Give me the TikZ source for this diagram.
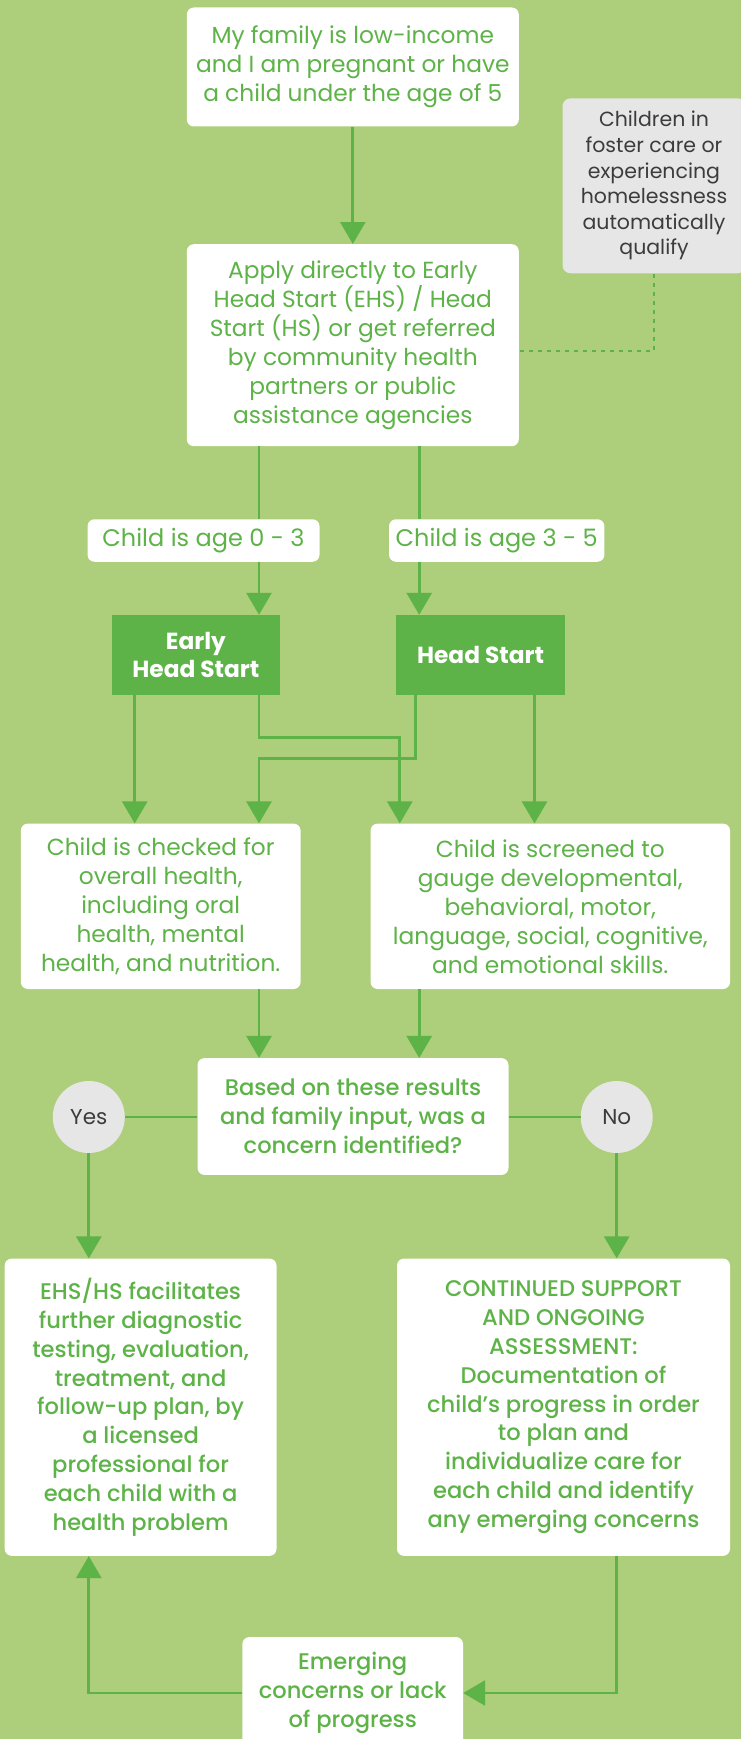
\documentclass[tikz,border=0pt]{standalone}
\usepackage{fontspec}
\setmainfont{Poppins}
\newfontfamily\medfont{Poppins Medium}
\usetikzlibrary{arrows.meta}
\definecolor{bg}{HTML}{ADCE7A}
\definecolor{tgreen}{HTML}{5DB347}
\definecolor{lgray}{HTML}{E6E6E6}
\definecolor{dgray}{HTML}{3C3C3C}
\begin{document}
\begin{tikzpicture}[x=1pt,y=-1pt,
  wbox/.style={fill=white, rounded corners=7pt, text=tgreen, align=center, inner sep=0pt},
  txt/.style={font=\fontsize{23.3}{29}\selectfont},
  mtxt/.style={font=\medfont\fontsize{22.6}{28.8}\selectfont},
  gbox/.style={fill=tgreen, text=white, align=center, inner sep=0pt, font=\bfseries\fontsize{23.3}{28.6}\selectfont},
  conn/.style={draw=tgreen, line width=2.8pt},
  arr/.style={conn, -{Triangle[length=22pt,width=25pt]}},
  circ/.style={circle, fill=lgray, text=dgray, minimum size=72pt, inner sep=0pt, font=\fontsize{21.5}{24}\selectfont}
]
\fill[bg] (0,0) rectangle (741,1739);
\useasboundingbox (0,0) rectangle (741,1739);

\coordinate (x1) at (134.7,0);
\coordinate (xL) at (259,0);
\coordinate (x2) at (399.8,0);
\coordinate (x3) at (415.4,0);
\coordinate (xR) at (419.2,0);
\coordinate (x4) at (534.5,0);
\coordinate (dd) at (0,350.7);

\node[wbox, txt, minimum width=332pt, minimum height=119pt] (top) at (352.8,67)
  {My family is low-income\\and I am pregnant or have\\a child under the age of 5};
\node[wbox, txt, minimum width=332pt, minimum height=202pt] (apply) at (352.8,345.2)
  {Apply directly to Early\\Head Start (EHS) / Head\\Start (HS) or get referred\\by community health\\partners or public\\assistance agencies};
\node[fill=lgray, rounded corners=8pt, text=dgray, align=center, inner sep=0pt,
  minimum width=183pt, minimum height=175pt, font=\fontsize{20.5}{25.6}\selectfont] (gray) at (654,185.8)
  {Children in\\foster care or\\experiencing\\homelessness\\automatically\\qualify};

\node[wbox, txt, font=\fontsize{24}{29}\selectfont, minimum width=232pt, minimum height=42.5pt] (age03) at (203.5,540.5) {Child is age 0 - 3};
\node[wbox, txt, font=\fontsize{24}{29}\selectfont, minimum width=215.4pt, minimum height=42.5pt] (age35) at (496.7,540.5) {Child is age 3 - 5};

\node[gbox, minimum width=167.8pt, minimum height=79.6pt] (ehs) at (195.9,654.8) {Early\\Head Start};
\node[gbox, minimum width=169.2pt, minimum height=79.6pt] (hs) at (480.6,654.8) {Head Start};

\node[wbox, txt, minimum width=279.8pt, minimum height=165.4pt] (check) at (160.7,906.3)
  {Child is checked for\\overall health,\\including oral\\health, mental\\health, and nutrition.};
\node[wbox, txt, minimum width=359.5pt, minimum height=165.4pt] (screen) at (550.3,906.3)
  {Child is screened to\\gauge developmental,\\behavioral, motor,\\language, social, cognitive,\\and emotional skills.};

\node[wbox, mtxt, minimum width=311pt, minimum height=116.8pt] (dec) at (353,1116.5)
  {Based on these results\\and family input, was a\\concern identified?};
\node[circ] (yes) at (88.8,1117) {Yes};
\node[circ] (no) at (616.7,1117) {No};

\node[wbox, mtxt, minimum width=271.8pt, minimum height=297.3pt] (fac) at (140.6,1407.2)
  {EHS/HS facilitates\\further diagnostic\\testing, evaluation,\\treatment, and\\follow-up plan, by\\a licensed\\professional for\\each child with a\\health problem};
\node[wbox, mtxt, minimum width=333pt, minimum height=297.3pt] (cont) at (563.5,1407.2)
  {CONTINUED SUPPORT\\AND ONGOING\\ASSESSMENT:\\Documentation of\\child’s progress in order\\to plan and\\individualize care for\\each child and identify\\any emerging concerns};
\node[wbox, mtxt, minimum width=220.6pt, minimum height=112pt] (emer) at (352.7,1693)
  {Emerging\\concerns or lack\\of progress};

% connectors
\draw[arr] (top) -- (apply);
\draw[conn, line width=2pt, dash pattern=on 4.5pt off 4.5pt] (gray.south) -- (gray.south |- dd) -- (apply.east |- dd);
\draw[conn] (apply.south -| xL) -- (age03.north -| xL);
\draw[arr] (age03.south -| xL) -- (ehs.north -| xL);
\draw[conn] (apply.south -| xR) -- (age35.north -| xR);
\draw[arr] (age35.south -| xR) -- (hs.north -| xR);
\draw[arr] (ehs.south -| x1) -- (check.north -| x1);
\draw[arr] (ehs.south -| xL) -- ++(0,42.4) -| (screen.north -| x2);
\draw[arr] (hs.south -| x3) -- ++(0,63.4) -| (check.north -| xL);
\draw[arr] (hs.south -| x4) -- (screen.north -| x4);
\draw[arr] (check.south -| xL) -- (dec.north -| xL);
\draw[arr] (screen.south -| xR) -- (dec.north -| xR);
\draw[conn] (yes.east) -- (yes.east -| dec.west);
\draw[conn] (dec.east |- no.west) -- (no.west);
\draw[arr] (yes.south) -- (yes.south |- fac.north);
\draw[arr] (no.south) -- (no.south |- cont.north);
\draw[arr] (cont.south -| no.center) |- (emer.east);
\draw[arr] (emer.west) -| (fac.south -| yes.center);
\end{tikzpicture}
\end{document}
